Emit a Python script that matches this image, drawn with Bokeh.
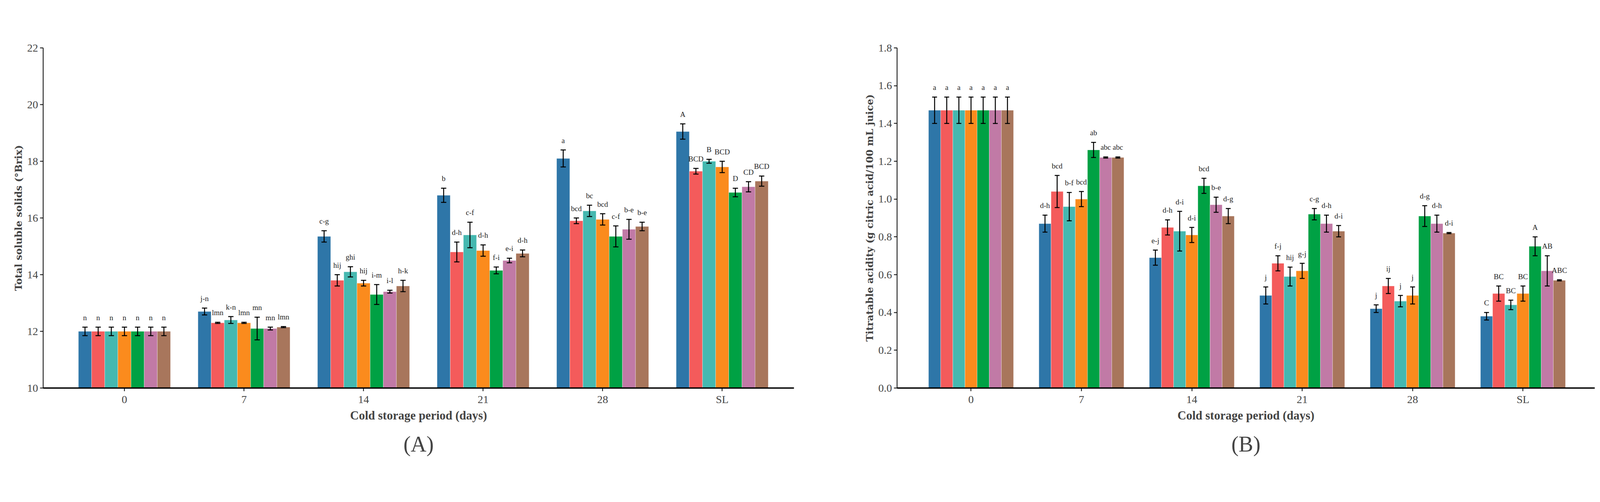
from bokeh.plotting import figure
from bokeh.models import ColumnDataSource, FixedTicker, Legend, LegendItem, Title, Range1d
from bokeh.layouts import row
from bokeh.embed import file_html
from bokeh.resources import INLINE
from bokeh.core.properties import value

periods = ["0", "7", "14", "21", "28", "SL"]
treatments = ["Control", "SNP", "Arg", "SA", "SNP + Arg", "SNP + SA", "Arg + SA"]
colors = ["#2e76a8", "#f45b5b", "#45b8b0", "#fb8b1d", "#00a144", "#c17aa6", "#a8765c"]

# rows = periods, columns = treatments
tss = [[12.0]*7,
       [12.7, 12.3, 12.4, 12.3, 12.1, 12.1, 12.15],
       [15.35, 13.8, 14.1, 13.7, 13.3, 13.4, 13.6],
       [16.8, 14.8, 15.4, 14.85, 14.15, 14.5, 14.75],
       [18.1, 15.9, 16.25, 15.95, 15.35, 15.6, 15.7],
       [19.05, 17.65, 18.0, 17.8, 16.9, 17.1, 17.3]]
tss_err = [[0.15]*7,
           [0.12, 0.02, 0.12, 0.02, 0.4, 0.05, 0.02],
           [0.2, 0.2, 0.18, 0.1, 0.35, 0.05, 0.2],
           [0.25, 0.35, 0.45, 0.2, 0.12, 0.08, 0.12],
           [0.3, 0.1, 0.2, 0.2, 0.37, 0.35, 0.15],
           [0.27, 0.1, 0.07, 0.2, 0.15, 0.18, 0.18]]
tss_let = [["n"]*7,
           ["j-n", "lmn", "k-n", "lmn", "mn", "mn", "lmn"],
           ["c-g", "hij", "ghi", "hij", "i-m", "i-l", "h-k"],
           ["b", "d-h", "c-f", "d-h", "f-i", "e-i", "d-h"],
           ["a", "bcd", "bc", "bcd", "c-f", "b-e", "b-e"],
           ["A", "BCD", "B", "BCD", "D", "CD", "BCD"]]

ta = [[1.47]*7,
      [0.87, 1.04, 0.96, 1.0, 1.26, 1.22, 1.22],
      [0.69, 0.85, 0.83, 0.81, 1.07, 0.97, 0.91],
      [0.49, 0.66, 0.59, 0.62, 0.92, 0.87, 0.83],
      [0.42, 0.54, 0.46, 0.49, 0.91, 0.87, 0.82],
      [0.38, 0.50, 0.44, 0.50, 0.75, 0.62, 0.57]]
ta_err = [[0.07]*7,
          [0.045, 0.085, 0.075, 0.04, 0.04, 0.003, 0.003],
          [0.04, 0.04, 0.105, 0.04, 0.04, 0.04, 0.04],
          [0.045, 0.04, 0.05, 0.04, 0.03, 0.045, 0.03],
          [0.02, 0.04, 0.03, 0.045, 0.055, 0.045, 0.003],
          [0.02, 0.04, 0.025, 0.04, 0.05, 0.08, 0.003]]
ta_let = [["a"]*7,
          ["d-h", "bcd", "b-f", "bcd", "ab", "abc", "abc"],
          ["e-j", "d-h", "d-i", "d-i", "bcd", "b-e", "d-g"],
          ["j", "f-j", "hij", "g-j", "c-g", "d-h", "d-i"],
          ["j", "ij", "j", "j", "d-g", "d-h", "d-i"],
          ["C", "BC", "BC", "BC", "A", "AB", "ABC"]]

ratio = [[8.1]*7,
         [14.7, 11.9, 13.2, 12.3, 9.6, 9.95, 10.0],
         [22.3, 16.3, 17.5, 17.0, 12.5, 13.8, 15.1],
         [35.3, 22.8, 26.7, 24.6, 15.3, 16.7, 17.8],
         [43.1, 30.8, 35.9, 33.7, 17.0, 18.1, 19.3],
         [52.3, 36.4, 41.3, 36.8, 22.8, 28.8, 30.4]]
ratio_err = [[0.4]*7,
             [0.6, 0.9, 1.0, 0.5, 0.6, 0.1, 0.05],
             [0.9, 0.9, 2.4, 0.7, 0.6, 0.6, 0.8],
             [2.5, 1.2, 2.8, 1.6, 0.4, 0.6, 0.6],
             [1.1, 2.7, 2.6, 2.9, 1.2, 1.0, 0.2],
             [2.7, 3.0, 2.4, 3.0, 1.3, 3.2, 0.3]]
ratio_let = [["k"]*7,
             ["ijk", "ijk", "ijk", "ijk", "jk", "jk", "jk"],
             ["e-h", "g-j", "f-i", "g-j", "ijk", "ijk", "h-k"],
             ["b", "efg", "cde", "def", "g-k", "g-j", "f-i"],
             ["a", "bcd", "ab", "bc", "g-j", "f-i", "e-i"],
             ["A", "B", "B", "B", "D", "C", "C"]]

SERIF = "Liberation Serif"
BW = 0.11
FH = 870

def panel(vals, errs, lets, ylabel, yr, yticks, ylabels, tag, fw, bl, br, xr, legx):
    p = figure(frame_width=fw, frame_height=FH, output_backend="svg", toolbar_location=None,
               x_range=Range1d(*xr), y_range=Range1d(*yr),
               min_border_left=bl, min_border_right=br, min_border_top=122, min_border_bottom=10)
    items = []
    for j, t in enumerate(treatments):
        xs = [i + (j - 3) * BW for i in range(len(periods))]
        top = [vals[i][j] for i in range(len(periods))]
        e = [errs[i][j] for i in range(len(periods))]
        src = ColumnDataSource(dict(x=xs, top=top, lo=[a - b for a, b in zip(top, e)],
                                    hi=[a + b for a, b in zip(top, e)],
                                    cl=[x - 0.022 for x in xs], cr=[x + 0.022 for x in xs],
                                    lab=[lets[i][j] for i in range(len(periods))]))
        r = p.vbar(x="x", top="top", bottom=yr[0], width=BW, fill_color=colors[j],
                   line_color="white", line_width=0.5, source=src)
        p.segment(x0="x", x1="x", y0="lo", y1="hi", line_color="black", line_width=2.5, source=src)
        p.segment(x0="cl", x1="cr", y0="hi", y1="hi", line_color="black", line_width=2.5, source=src)
        p.segment(x0="cl", x1="cr", y0="lo", y1="lo", line_color="black", line_width=2.5, source=src)
        p.text(x="x", y="hi", text="lab", source=src, text_align="center", text_baseline="bottom",
               y_offset=-14, text_font=value(SERIF), text_font_size="19px", text_color="#222222")
        items.append(LegendItem(label=t, renderers=[r]))
    leg = Legend(items=items, orientation="vertical", nrows=2, location=(legx, FH + 18),
                 label_text_font=SERIF, label_text_font_size="25px", border_line_color=None,
                 glyph_width=45, glyph_height=22, spacing=6, label_standoff=12,
                 padding=4, margin=0, background_fill_alpha=0)
    p.add_layout(leg)
    p.xaxis.ticker = FixedTicker(ticks=list(range(len(periods))))
    p.xaxis.major_label_overrides = {i: s for i, s in enumerate(periods)}
    p.yaxis.ticker = FixedTicker(ticks=yticks)
    p.yaxis.major_label_overrides = {t: s for t, s in zip(yticks, ylabels)}
    for ax in (p.xaxis, p.yaxis):
        ax.major_label_text_font = SERIF
        ax.major_label_text_font_size = "28px"
        ax.axis_label_text_font_style = "bold"
        ax.major_tick_line_width = 2
        ax.major_tick_out = 8
        ax.major_tick_in = 0
        ax.minor_tick_line_color = None
    p.xaxis.axis_line_width = 3.5
    p.yaxis.axis_line_width = 2
    p.xaxis.axis_label = "Cold storage period (days)"
    p.xaxis.axis_label_text_font = SERIF
    p.xaxis.axis_label_text_font_size = "31px"
    p.yaxis.axis_label = ylabel
    p.yaxis.axis_label_text_font = "DejaVu Serif"
    p.yaxis.axis_label_text_font_size = "25px"
    p.xgrid.visible = False
    p.ygrid.visible = False
    p.outline_line_color = None
    p.add_layout(Title(text=tag, align="center", text_font=SERIF, text_font_size="56px",
                       text_font_style="normal", standoff=40), "below")
    return p

pa = panel(tss, tss_err, tss_let, "Total soluble solids (°Brix)", (10, 22),
           [10, 12, 14, 16, 18, 20, 22], ["10", "12", "14", "16", "18", "20", "22"],
           "(A)", 1922, 110, 50, (-0.68, 5.6), 592)
ta_ticks = [0, 0.2, 0.4, 0.6, 0.8, 1.0, 1.2, 1.4, 1.6, 1.8]
pb = panel(ta, ta_err, ta_let, "Titratable acidity (g citric acid/100 mL juice)", (0, 1.8),
           ta_ticks, ["%.1f" % t for t in ta_ticks], "(B)", 1786, 214, 50, (-0.67, 5.65), 523)
pc = panel(ratio, ratio_err, ratio_let, "TSS/TA ratio", (0, 60),
           [0, 10, 20, 30, 40, 50, 60], ["0", "10", "20", "30", "40", "50", "60"],
           "(C)", 1827, 110, 17, (-0.67, 5.68), 532)

lay = row(pa, pb, pc)
open("out.html", "w").write(file_html(lay, INLINE))
